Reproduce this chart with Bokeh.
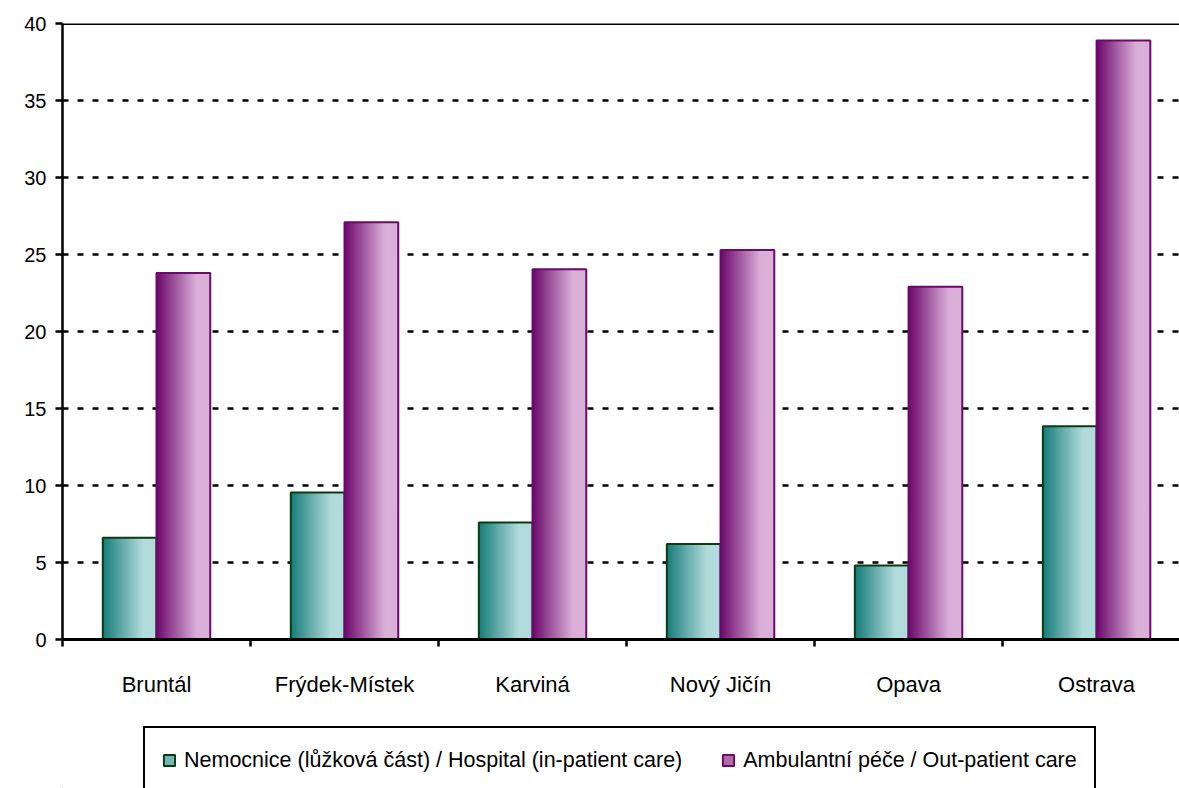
from bokeh.plotting import figure
from bokeh.layouts import column
from bokeh.models import (ColumnDataSource, Range1d, FixedTicker, LinearAxis,
                          Legend, LegendItem, Span)
from bokeh.transform import dodge
from bokeh.embed import file_html
from bokeh.resources import INLINE

# ---- data ----
districts = ["Bruntál", "Frýdek-Místek", "Karviná", "Nový Jičín", "Opava", "Ostrava"]
hospital = [6.6, 9.55, 7.6, 6.2, 4.8, 13.85]
outpatient = [23.8, 27.1, 24.05, 25.3, 22.9, 38.9]
y_ticks = [0, 5, 10, 15, 20, 25, 30, 35, 40]
series_labels = ["Nemocnice (lůžková část) / Hospital (in-patient care)",
                 "Ambulantní péče / Out-patient care"]

# ---- styling ----
FONT = "Liberation Sans, Arial, sans-serif"
TEAL_DARK, TEAL_LIGHT = (22, 124, 122), (178, 220, 220)
PURP_DARK, PURP_LIGHT = (108, 8, 108), (218, 176, 216)
TEAL_EDGE, PURP_EDGE = "#0b3b12", "#6a0a6a"
N_STRIPS = 40
BAR_W = 1 / 3.5  # Excel gap width 150 %

centers = [i + 0.5 for i in range(len(districts))]
bounds = list(range(len(districts) + 1))
source = ColumnDataSource(dict(x=centers, district=districts, hosp=hospital, amb=outpatient))

p = figure(width=1179, height=700, x_range=Range1d(0, 5.941), y_range=Range1d(y_ticks[0], y_ticks[-1]),
           output_backend="svg", toolbar_location=None,
           min_border_left=62, min_border_right=0, min_border_top=23, min_border_bottom=61,
           background_fill_color="white", border_fill_color="white", outline_line_color=None)


def col(c0, c1, t):
    f = min(t / 0.75, 1.0)
    return "#%02x%02x%02x" % tuple(int(round(a + (b - a) * f)) for a, b in zip(c0, c1))


def gradient_bar(field, offset, c0, c1, edge):
    step = BAR_W / N_STRIPS
    for k in range(N_STRIPS):
        t = (k + 0.5) / N_STRIPS
        w = step * 1.8 if k < N_STRIPS - 1 else step
        off = offset - BAR_W / 2 + k * step + w / 2
        p.vbar(x=dodge("x", off, range=p.x_range), top=field, bottom=0, width=w,
               source=source, fill_color=col(c0, c1, t), line_color=None)
    p.vbar(x=dodge("x", offset, range=p.x_range), top=field, bottom=0, width=BAR_W,
           source=source, fill_color=None, line_color=edge, line_width=2)


gradient_bar("hosp", -BAR_W / 2, TEAL_DARK, TEAL_LIGHT, TEAL_EDGE)
gradient_bar("amb", BAR_W / 2, PURP_DARK, PURP_LIGHT, PURP_EDGE)

# grid
p.xgrid.grid_line_color = None
p.ygrid.grid_line_color = "black"
p.ygrid.grid_line_width = 2.5
p.ygrid.grid_line_dash = "6 9"
p.ygrid.level = "underlay"
p.add_layout(Span(location=y_ticks[-1], dimension="width", line_color="black", line_width=3))

# y axis
ya = p.yaxis[0]
ya.ticker = FixedTicker(ticks=y_ticks)
ya.axis_line_color = "black"
ya.axis_line_width = 2.5
ya.major_tick_line_color = "black"
ya.major_tick_line_width = 2.5
ya.major_tick_in = 0
ya.major_tick_out = 7
ya.minor_tick_line_color = None
ya.major_label_standoff = 9
ya.major_label_text_font = FONT
ya.major_label_text_font_size = "20px"
ya.major_label_text_color = "black"

# x axis: boundary ticks
xa = p.xaxis[0]
xa.ticker = FixedTicker(ticks=bounds)
xa.axis_line_color = "black"
xa.axis_line_width = 3
xa.major_tick_line_color = "black"
xa.major_tick_line_width = 2.5
xa.major_tick_in = 0
xa.major_tick_out = 7
xa.minor_tick_line_color = None
xa.major_label_overrides = {b: "" for b in bounds}
xa.major_label_text_font_size = "0px"
xa.major_label_standoff = 0

# x axis: category labels
la = LinearAxis(ticker=FixedTicker(ticks=centers),
                major_label_overrides={c: d for c, d in zip(centers, districts)},
                axis_line_color=None, major_tick_line_color=None, minor_tick_line_color=None,
                major_tick_in=0, major_tick_out=0, major_label_standoff=25,
                major_label_text_font=FONT, major_label_text_font_size="22px",
                major_label_text_color="black")
p.add_layout(la, "below")

# ---- legend strip (separate figure below the chart) ----
q = figure(width=1179, height=88, x_range=Range1d(0, 1), y_range=Range1d(0, 1),
           output_backend="svg", toolbar_location=None, x_axis_type=None, y_axis_type=None,
           min_border=0, outline_line_color=None, background_fill_color="white",
           border_fill_color="white")
q.xgrid.grid_line_color = None
q.ygrid.grid_line_color = None
lh = q.vbar(x=[-5], top=[0], width=0.1, fill_color=col(TEAL_DARK, TEAL_LIGHT, 0.45),
            line_color=TEAL_EDGE, line_width=2)
lo = q.vbar(x=[-5], top=[0], width=0.1, fill_color=col(PURP_DARK, PURP_LIGHT, 0.45),
            line_color=PURP_EDGE, line_width=2)
legend = Legend(items=[LegendItem(label=series_labels[0], renderers=[lh]),
                       LegendItem(label=series_labels[1], renderers=[lo])],
                location=(81, -6), orientation="horizontal",
                border_line_color="black", border_line_width=2, border_line_alpha=1,
                background_fill_color="white", background_fill_alpha=1,
                label_text_font=FONT, label_text_font_size="21.5px", label_text_color="black",
                glyph_width=14, glyph_height=14, label_standoff=8, spacing=39,
                padding=17, label_height=30, margin=0)
q.add_layout(legend, "center")

open("out.html", "w").write(file_html(column(p, q, spacing=0), INLINE))
